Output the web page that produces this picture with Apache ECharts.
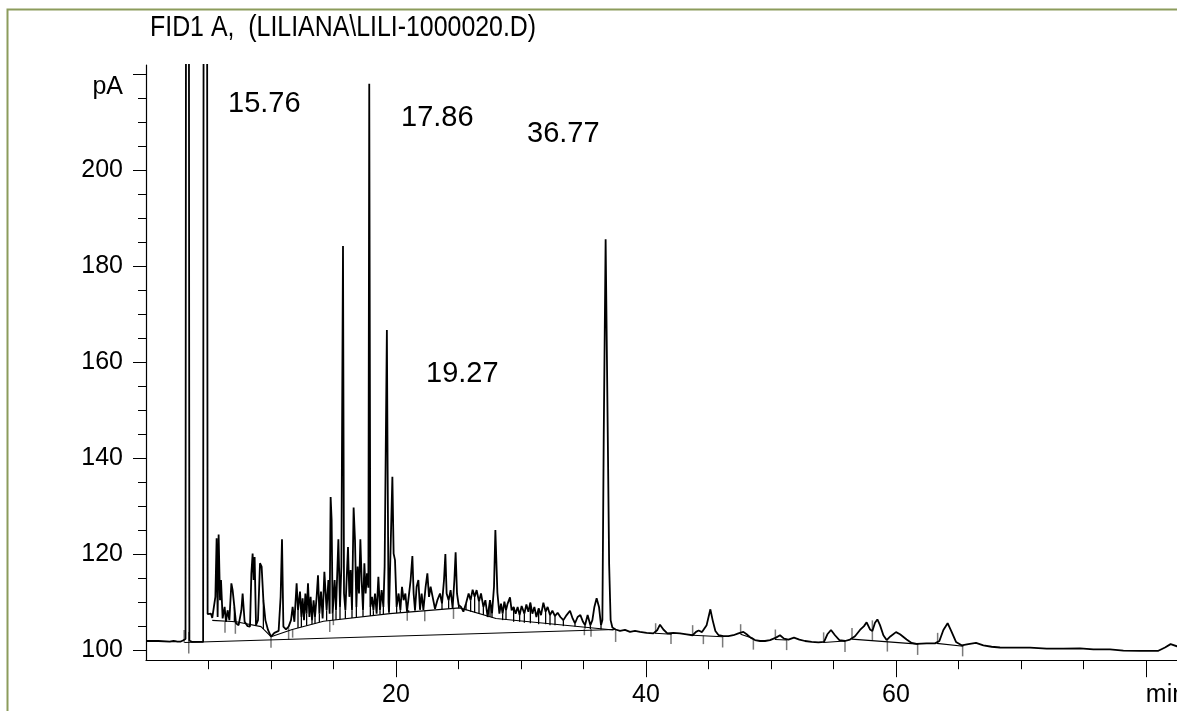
<!DOCTYPE html>
<html>
<head>
<meta charset="utf-8">
<title>FID1 A chromatogram</title>
<script src="https://cdn.jsdelivr.net/npm/echarts@6/dist/echarts.min.js"></script>
<style>
  html, body { margin: 0; padding: 0; background: #ffffff; }
  #chart { width: 1177px; height: 711px; }
</style>
</head>
<body>
<div id="chart"></div>
<script>
// ---- axis ranges and tick values ----
const timeRange = [0, 83];
const paRange = [97.9, 221.9];
const xMajorTicks = [20, 40, 60, 80];
const xMinorTicks = [5, 10, 15, 25, 30, 35, 45, 50, 55, 65, 70, 75];
const yMajorTicks = [100, 120, 140, 160, 180, 200, 220];
const yMinorTicks = [105, 110, 115, 125, 130, 135, 145, 150, 155, 165, 170, 175, 185, 190, 195, 205, 210, 215];

// ---- detector signal, [time (min), signal (pA)] ----
const traceSolventFront = [
  [0, 101.9], [1.0, 101.9], [1.9, 101.75], [2.05, 102.15], [2.2, 101.9], [2.45, 101.8], [2.75, 101.75],
  [2.95, 102.0], [3.16, 102.3], [3.32, 650], [3.47, 102.0], [3.7, 101.7], [4.1, 101.7], [4.57, 101.7],
  [4.74, 700], [4.93, 107.5], [5.05, 107.4], [5.2, 107.6], [5.3, 106.7]
];
const traceEarlyCluster = [
  [5.41, 106.6], [5.55, 111.1], [5.65, 123.3], [5.73, 106.9], [5.81, 124.1], [5.92, 110.4], [6.0, 114.6],
  [6.13, 106.6], [6.29, 109], [6.4, 105.9], [6.53, 108.3], [6.67, 106.25], [6.83, 113.9], [6.93, 112.5],
  [7.07, 109], [7.2, 105.6], [7.41, 105.2], [7.63, 108.3], [7.73, 111.8], [7.89, 105.9], [8.13, 105],
  [8.32, 104.9], [8.43, 116], [8.53, 120.1], [8.61, 114.6], [8.69, 119.4], [8.8, 105.2], [8.96, 106.25],
  [9.12, 118.1], [9.25, 117.4], [9.39, 110.4], [9.55, 106.25], [9.76, 104.2], [10.0, 102.8], [10.27, 103.6],
  [10.61, 104], [10.77, 111.1], [10.88, 123.1], [10.99, 104.9], [11.2, 104.3], [11.41, 104.9], [11.6, 106.25],
  [11.73, 109], [11.87, 105.9], [12.05, 113.9], [12.16, 108.3], [12.32, 112.2], [12.43, 106.9], [12.53, 110.8],
  [12.64, 106.25], [12.75, 111.8], [12.85, 107.6], [12.96, 113.9], [13.07, 106.9], [13.17, 111.1],
  [13.28, 106.25], [13.41, 110.4], [13.52, 106.9], [13.65, 111.1], [13.76, 115.6], [13.87, 107.6],
  [14.0, 112.2], [14.13, 106.6], [14.27, 116.3]
];
const traceMainCluster = [
  [14.45, 108.3], [14.59, 114.6], [14.69, 107.6], [14.77, 131.9], [14.85, 127.1], [14.93, 107.6],
  [15.09, 114.6], [15.2, 108.3], [15.39, 123.1], [15.52, 109], [15.63, 117.4], [15.76, 184.2], [15.84, 111.8],
  [15.95, 108.3], [16.05, 114.6], [16.16, 121.5], [16.27, 111.1], [16.37, 116.7], [16.48, 108.3],
  [16.61, 129.7], [16.72, 122.9], [16.83, 109], [16.93, 117.4], [17.04, 111.8], [17.15, 123.1],
  [17.25, 114.6], [17.36, 108.3], [17.47, 118.1], [17.57, 111.8], [17.68, 116], [17.79, 113],
  [17.86, 218], [17.95, 109], [18.08, 111.1], [18.19, 108.3], [18.32, 111.8], [18.45, 107.6],
  [18.59, 115.3], [18.72, 108.3], [18.85, 112.5], [18.99, 109], [19.09, 117.4], [19.27, 166.7],
  [19.33, 137.9], [19.4, 110], [19.44, 107.8], [19.57, 121.5], [19.71, 136.1], [19.81, 120.1],
  [19.92, 118.75], [20.05, 109], [20.21, 111.8], [20.35, 108.3], [20.48, 113.2], [20.61, 110.4],
  [20.75, 111.8], [20.88, 108], [21.01, 108.3], [21.17, 114.6], [21.31, 119.6], [21.41, 111.8],
  [21.52, 108.3], [21.65, 113.2], [21.79, 114.6], [21.92, 108.4], [22.05, 111.8], [22.19, 108.4],
  [22.37, 113.2], [22.51, 116], [22.64, 111.1], [22.77, 113.2], [22.93, 111.1], [23.12, 108.6],
  [23.31, 110.4], [23.52, 111.8], [23.68, 109.7], [23.84, 114.6], [23.95, 120], [24.05, 111.8],
  [24.21, 110.4], [24.37, 112.5], [24.53, 108.8], [24.67, 114.6], [24.77, 120.4], [24.88, 111.8],
  [25.01, 109.4], [25.2, 109], [25.39, 108], [25.6, 109.7], [25.81, 111.8], [25.97, 110.4],
  [26.13, 112.6], [26.29, 111.1], [26.45, 112.5], [26.64, 110.1], [26.8, 111.8], [26.99, 109],
  [27.15, 110.4], [27.33, 106.9], [27.52, 110.4], [27.68, 107.6], [27.84, 113.2], [27.95, 125],
  [28.11, 112], [28.27, 107.6]
];
const traceLateCluster = [
  [28.4, 109.7], [28.53, 107.6], [28.67, 110.1], [28.8, 108.3], [28.93, 109.7], [29.12, 111],
  [29.25, 108.3], [29.41, 109], [29.57, 107.6], [29.73, 109], [29.89, 107.3], [30.05, 109.2],
  [30.27, 107.6], [30.43, 109.5], [30.59, 108], [30.75, 109.9], [30.91, 107.6], [31.07, 109],
  [31.23, 106.9], [31.41, 108.7], [31.6, 107.3], [31.79, 109.9], [31.97, 108], [32.13, 109],
  [32.32, 107.3], [32.51, 108.2], [32.72, 107.1], [32.93, 107.8], [33.15, 106.9], [33.39, 106.25],
  [33.65, 107.3], [33.92, 108.2], [34.13, 106.6], [34.32, 105.6], [34.53, 106.9], [34.75, 107.3],
  [34.96, 105.9], [35.12, 105.2], [35.33, 107.3], [35.55, 105.2], [35.71, 106.25], [35.87, 109],
  [36.05, 110.8], [36.24, 109], [36.4, 105.2], [36.51, 106.25], [36.62, 145], [36.77, 185.6],
  [36.97, 138], [37.05, 118], [37.17, 106.25], [37.31, 104.7], [37.57, 104.3], [37.92, 104],
  [38.32, 104.2], [38.72, 103.8], [39.12, 104], [39.52, 103.8]
];
const traceTail = [
  [40.05, 103.6], [40.59, 103.5], [40.91, 104.2], [41.12, 105.3], [41.39, 104.3], [41.71, 103.5],
  [42.19, 103.6], [42.72, 103.5], [43.25, 103.3], [43.73, 103.1], [44.0, 103.8], [44.21, 104.1],
  [44.48, 103.75], [44.64, 103.5], [44.85, 105.2], [45.15, 108.5], [45.33, 106.25], [45.55, 104],
  [45.81, 103.1], [46.19, 102.9], [46.59, 102.9], [46.99, 103.1], [47.39, 103.5], [47.79, 103.8],
  [48.05, 103.3], [48.37, 102.6], [48.72, 102.1], [49.12, 101.9], [49.52, 101.9], [49.92, 102.1],
  [50.4, 102.6], [50.72, 103.1], [51.04, 102.4], [51.39, 102.2], [51.84, 102.6], [52.27, 102.2],
  [52.72, 101.9], [53.25, 101.7], [53.79, 101.6], [54.24, 101.7], [54.51, 103.3], [54.8, 104.2],
  [55.12, 103.1], [55.47, 102.1], [55.92, 101.9], [56.32, 102.2], [56.72, 102.9], [57.12, 104.2],
  [57.44, 105], [57.65, 105.8], [57.92, 104.3], [58.11, 104], [58.32, 105.7], [58.51, 106.4],
  [58.72, 105.2], [58.99, 103.1], [59.25, 102.1], [59.57, 102.9], [60.0, 103.75], [60.32, 103.3],
  [60.85, 102.2], [61.25, 101.5], [61.65, 101.3], [62.45, 101.4], [63.12, 101.4], [63.47, 101.9],
  [63.79, 104.2], [64.13, 105.6], [64.45, 103.8], [64.8, 101.7], [65.25, 101], [65.79, 101.25],
  [66.4, 101.5], [66.99, 101], [67.65, 100.7], [68.32, 100.55], [69.39, 100.5], [70.72, 100.5],
  [72.05, 100.3], [73.39, 100.3], [74.72, 100.35], [75.79, 100.15], [77.12, 100.15], [78.19, 99.9],
  [79.52, 99.86], [80.99, 99.86], [81.52, 100.55], [81.97, 101.25], [82.48, 100.8], [83, 100.6]
];

// ---- integration baselines ----
const baselineMain = [[3.07, 101.6], [37.5, 104.3]];
const baselineCluster = [
  [5.3, 106.2], [7.2, 105.9], [9.2, 104.9], [10.0, 102.8], [11.7, 104.3], [14.2, 106.0],
  [19.5, 107.6], [25.1, 108.8], [28.0, 106.6], [37.4, 104.2]
];
const baselinesLate = [
  [[40.72, 103.5], [42.05, 103.3]],
  [[43.73, 103.1], [46.13, 102.8]],
  [[47.57, 103.3], [48.59, 102.4]],
  [[50.32, 102.2], [51.25, 102.1]],
  [[54.19, 101.6], [55.92, 101.9]],
  [[56.45, 102.3], [61.79, 101.25]],
  [[63.25, 101.4], [65.39, 100.8]]
];

// ---- peak separation drop lines, [time, from pA, to pA] ----
const dropLines = [
  [7.07, 109, 105.8], [9.39, 110.4, 104.4], [12.16, 108.3, 104.6], [12.43, 106.9, 104.8],
  [12.85, 107.6, 105.1], [13.28, 106.25, 105.4], [13.52, 106.9, 105.5], [13.87, 107.6, 105.8],
  [14.45, 108.3, 106.1], [14.93, 107.6, 106.2], [15.2, 108.3, 106.3], [15.52, 109, 106.4],
  [15.95, 108.3, 106.5], [16.48, 108.3, 106.7], [16.83, 109, 106.8], [17.36, 108.3, 106.95],
  [17.95, 109, 107.1], [18.19, 108.3, 107.2], [18.72, 108.3, 107.4], [18.99, 109, 107.45],
  [20.05, 109, 107.7], [20.35, 108.3, 107.8], [21.01, 108.3, 107.9], [21.52, 108.3, 108.0],
  [23.68, 109.7, 108.5], [24.21, 110.4, 108.6], [25.01, 109.4, 108.8], [25.6, 109.7, 108.3],
  [25.97, 110.4, 108.0], [26.29, 111.1, 107.8], [26.64, 110.1, 107.5], [26.99, 109, 107.3],
  [27.52, 110.4, 106.9], [27.68, 107.6, 106.8],
  [28.53, 107.6, 106.25], [28.8, 108.3, 106.25], [29.41, 109, 105.9], [29.89, 107.3, 105.9],
  [30.27, 107.6, 105.7], [30.75, 109.9, 105.6], [31.41, 108.7, 105.4], [31.97, 108, 105.4],
  [32.32, 107.3, 105.2], [32.72, 107.1, 105.2], [33.39, 106.25, 105.0], [34.32, 105.6, 104.9],
  [35.12, 105.2, 104.5], [35.55, 105.2, 104.4], [36.4, 105.2, 104.3]
];

// ---- peak start / end markers, [time, from pA, to pA] ----
const eventTicks = [
  [3.05, 104.2, 101.6], [3.42, 103.8, 99.3], [6.32, 105.9, 103.6], [7.15, 105.8, 103.4],
  [10.0, 102.8, 100.5], [11.41, 104.6, 102.2], [11.73, 104.3, 102.6], [14.7, 106.1, 103.8],
  [14.99, 107.6, 105.2], [20.9, 108.3, 106.1], [22.3, 108.2, 106.0], [24.6, 108.7, 106.5],
  [35.07, 104.5, 103.1], [35.6, 104.4, 102.8], [37.57, 104.3, 101.7],
  [40.77, 103.5, 105.6], [42.0, 103.4, 101.25], [43.73, 103.1, 105.2], [44.59, 103.0, 101.25],
  [46.13, 102.8, 100.55], [47.57, 103.3, 105.4], [48.59, 102.4, 100.1], [50.35, 102.2, 104.3],
  [51.25, 102.1, 100.0], [54.21, 101.6, 103.7], [55.92, 101.9, 99.6], [56.48, 102.3, 104.6],
  [58.11, 101.9, 106.2], [59.31, 102.0, 99.7], [61.73, 101.25, 99.0], [63.33, 101.4, 103.6],
  [65.33, 100.8, 98.7]
];

// ---- retention time annotations ----
const annotationTexts = ['15.76', '17.86', '36.77', '19.27'];
const annotationPos = [[228, 103.5], [401, 118], [527, 134], [426, 373.5]];

const titleText = 'FID1 A,  (LILIANA\\LILI-1000020.D)';
const axisFont = '"Liberation Sans", Arial, sans-serif';

const trace = [].concat(traceSolventFront, traceEarlyCluster, traceMainCluster, traceLateCluster, traceTail);

function verticalSegments(name, items, color, width) {
  return {
    type: 'custom',
    name: name,
    data: items,
    encode: { x: 0, y: [1, 2] },
    silent: true,
    z: 3,
    renderItem: function (params, api) {
      const a = api.coord([api.value(0), api.value(1)]);
      const b = api.coord([api.value(0), api.value(2)]);
      return {
        type: 'line',
        shape: { x1: a[0], y1: a[1], x2: b[0], y2: b[1] },
        style: { stroke: color, lineWidth: width }
      };
    }
  };
}

function baselineSeries(points) {
  return {
    type: 'line', data: points, symbol: 'none', silent: true, z: 3,
    lineStyle: { color: '#000000', width: 1.1 }
  };
}

const chart = echarts.init(document.getElementById('chart'), null, { renderer: 'canvas' });

const axisText = { fontFamily: axisFont, fontSize: 25, color: '#000000' };

chart.setOption({
  animation: false,
  backgroundColor: '#ffffff',
  grid: { left: 146, top: 65, width: 1037.5, height: 595.2, outerBoundsMode: 'none', containLabel: false },
  xAxis: [{
    type: 'value', min: timeRange[0], max: timeRange[1],
    axisLine: { show: true, onZero: false, lineStyle: { color: '#000000', width: 1.2 } },
    axisTick: { show: true, customValues: xMajorTicks, length: 17, lineStyle: { color: '#000000', width: 1 } },
    axisLabel: Object.assign({
      customValues: xMajorTicks, margin: 22,
      formatter: function (v) { return v === 80 ? '{u|min}' : String(v); },
      rich: { u: Object.assign({ padding: [0, 0, 0, 40] }, axisText) }
    }, axisText),
    splitLine: { show: false }
  }, {
    type: 'value', min: timeRange[0], max: timeRange[1], position: 'bottom',
    axisLine: { show: false },
    axisTick: { show: true, customValues: xMinorTicks, length: 9, lineStyle: { color: '#000000', width: 1 } },
    axisLabel: { show: false },
    splitLine: { show: false }
  }],
  yAxis: [{
    type: 'value', min: paRange[0], max: paRange[1],
    axisLine: { show: true, onZero: false, lineStyle: { color: '#000000', width: 1.2 } },
    axisTick: { show: true, customValues: yMajorTicks, length: 13, lineStyle: { color: '#000000', width: 1 } },
    axisLabel: Object.assign({
      customValues: yMajorTicks, margin: 23,
      formatter: function (v) { return v === 220 ? '{u|pA}' : String(v); },
      rich: { u: Object.assign({ padding: [26, 0, 0, 0] }, axisText) }
    }, axisText),
    splitLine: { show: false }
  }, {
    type: 'value', min: paRange[0], max: paRange[1], position: 'left',
    axisLine: { show: false },
    axisTick: { show: true, customValues: yMinorTicks, length: 8, lineStyle: { color: '#000000', width: 1 } },
    axisLabel: { show: false },
    splitLine: { show: false }
  }],
  graphic: [{
    type: 'rect', silent: true, z: -1,
    shape: { x: 7.5, y: 9.5, width: 1400, height: 900 },
    style: { fill: 'none', stroke: '#8c9c5c', lineWidth: 2 }
  }, {
    // chart title, set in a condensed cut
    type: 'text', silent: true, x: 150, y: 28, scaleX: 0.83, scaleY: 1,
    style: { text: titleText, fontFamily: axisFont, fontSize: 30, fill: '#000000', align: 'left', verticalAlign: 'middle' }
  }].concat(annotationTexts.map(function (t, i) {
    return {
      type: 'text', silent: true, x: annotationPos[i][0], y: annotationPos[i][1],
      style: { text: t, fontFamily: axisFont, fontSize: 29, fill: '#000000', align: 'left', verticalAlign: 'middle' }
    };
  })),
  series: [
    baselineSeries(baselineMain),
    baselineSeries(baselineCluster)
  ].concat(baselinesLate.map(baselineSeries)).concat([
    verticalSegments('drops', dropLines, '#000000', 1.3),
    verticalSegments('events', eventTicks, '#7a7a7a', 1.5),
    {
      type: 'line', name: 'FID1 A', data: trace, symbol: 'none', clip: true, z: 4,
      lineStyle: { color: '#000000', width: 1.8 }
    }
  ])
});
</script>
</body>
</html>
